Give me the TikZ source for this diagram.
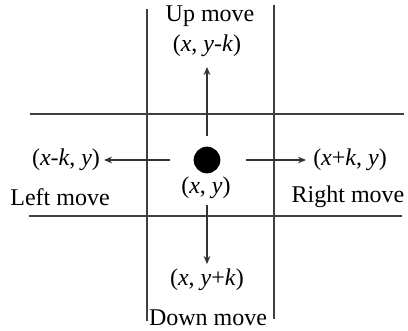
\documentclass[tikz,border=0pt]{standalone}
\usepackage{fontspec}
\setmainfont{Liberation Serif}
\usetikzlibrary{arrows.meta}
\begin{document}
\begin{tikzpicture}[x=0.75pt,y=-0.75pt,
  grid/.style={draw=black!75,line width=0.8pt},
  arr/.style={draw=black!80,line width=0.8pt,-{Stealth[length=6pt,width=5pt]}},
  lbl/.style={inner sep=0pt,font=\fontsize{18}{20}\selectfont},
  dot/.style={circle,fill=black,minimum size=20pt,inner sep=0pt}]
\useasboundingbox (0,0) rectangle (408,330);
% grid lines
\coordinate (v1a) at (147,9);  \coordinate (v1b) at (147,321);
\coordinate (v2a) at (274,5);  \coordinate (v2b) at (274,319);
\coordinate (h1a) at (30,114); \coordinate (h1b) at (404,114);
\coordinate (h2a) at (29,216); \coordinate (h2b) at (402,216);
\draw[grid] (v1a) -- (v1b);
\draw[grid] (v2a) -- (v2b);
\draw[grid] (h1a) -- (h1b);
\draw[grid] (h2a) -- (h2b);
% centre
\node[dot] (c) at (207,160) {};
\node[lbl] (cxy) at (206,188) {(\textit{x}, \textit{y})};
% labels
\node[lbl] (up) at (210,16) {Up move};
\node[lbl] (upxy) at (207,46) {(\textit{x}, \textit{y}-\textit{k})};
\node[lbl] (lxy) at (66,160) {(\textit{x}-\textit{k}, \textit{y})};
\node[lbl] (left) at (60,197) {Left move};
\node[lbl] (rxy) at (350,160) {(\textit{x}+\textit{k}, \textit{y})};
\node[lbl] (right) at (348,197) {Right move};
\node[lbl] (dxy) at (207,280) {(\textit{x}, \textit{y}+\textit{k})};
\node[lbl,anchor=base] (down) at (208,325) {Down move};
% arrow endpoints
\coordinate (ua) at (207,136); \coordinate (ub) at (207,67);
\coordinate (la) at (170,160); \coordinate (lb) at (104,160);
\coordinate (ra) at (246,160); \coordinate (rb) at (306,160);
\coordinate (da) at (207,205); \coordinate (db) at (207,264);
\draw[arr] (ua) -- (ub);
\draw[arr] (la) -- (lb);
\draw[arr] (ra) -- (rb);
\draw[arr] (da) -- (db);
\end{tikzpicture}
\end{document}
